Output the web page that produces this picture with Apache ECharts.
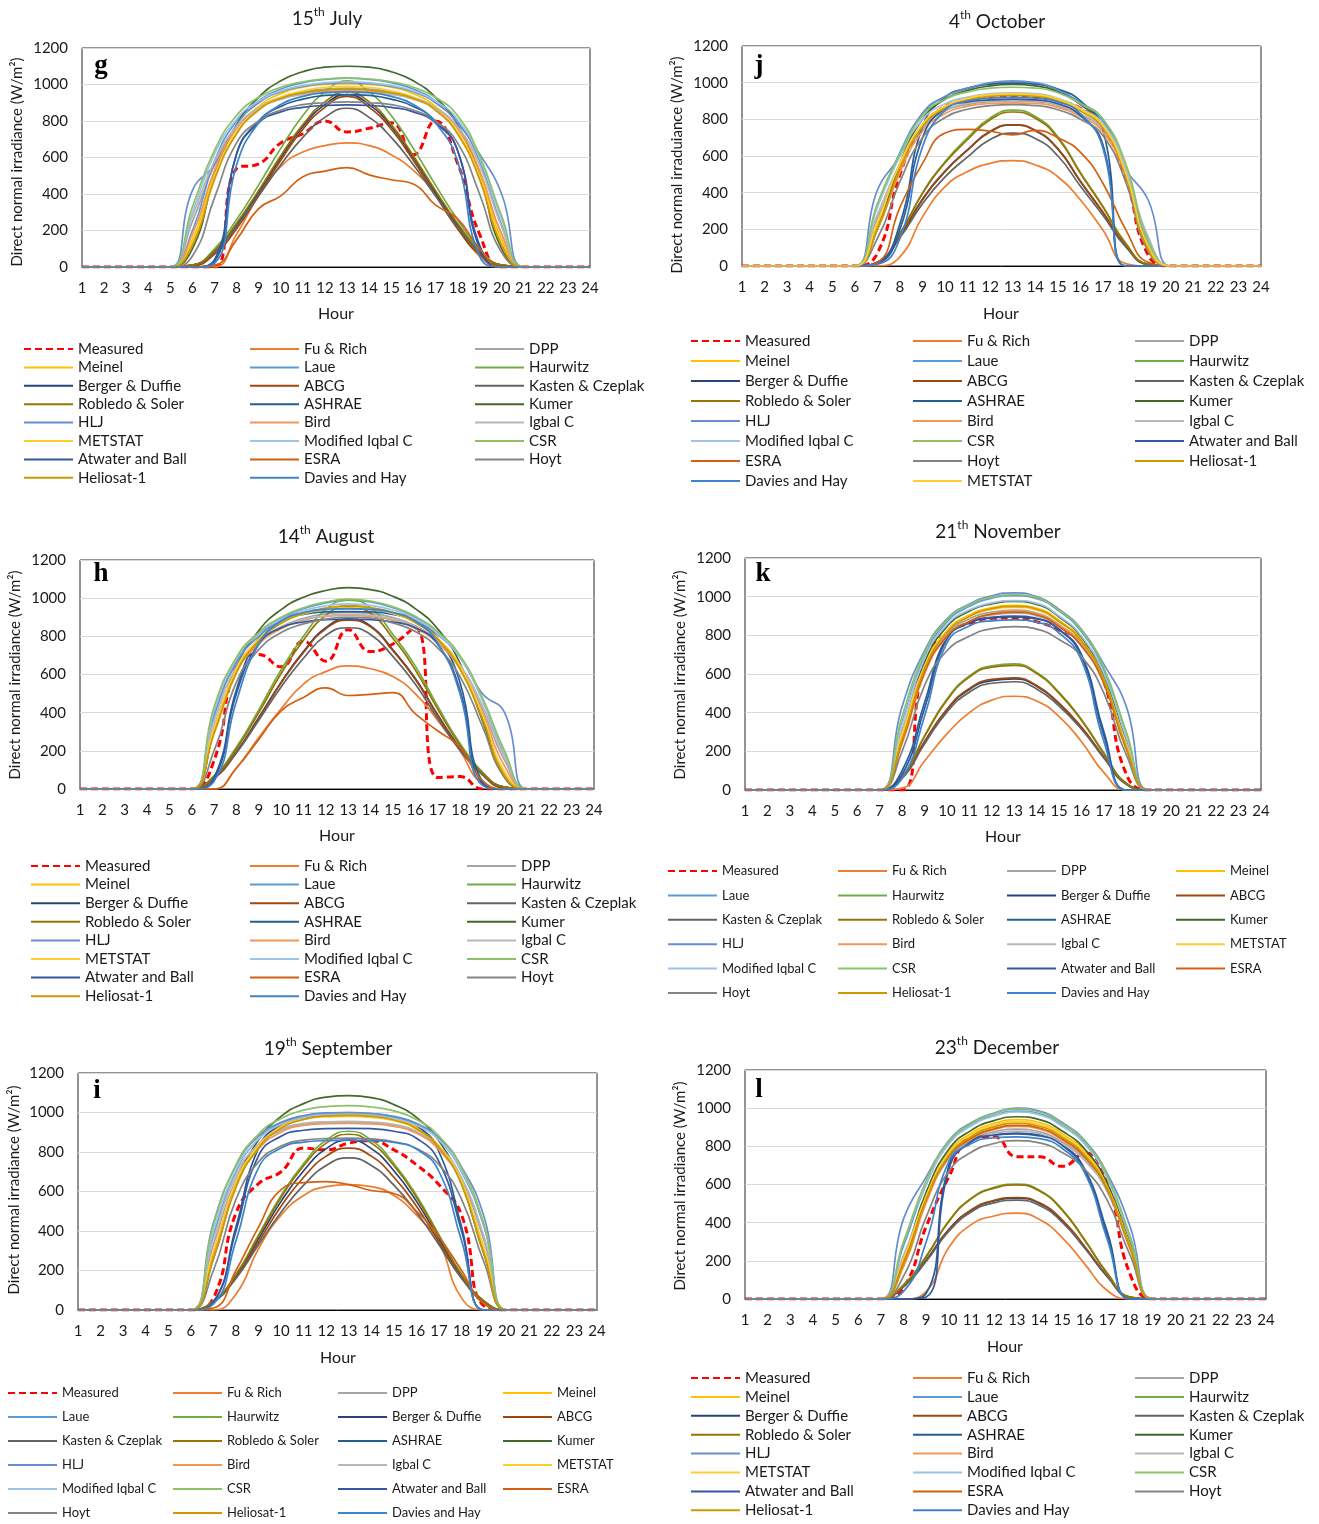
<!DOCTYPE html>
<html><head><meta charset="utf-8">
<script src="https://cdn.jsdelivr.net/npm/echarts@6/dist/echarts.min.js"></script>
<style>html,body{margin:0;padding:0;background:#fff}#c{width:1319px;height:1524px}</style>
</head><body><div id="c"></div>
<script>
// ---------- categories ----------
const hours = ['1','2','3','4','5','6','7','8','9','10','11','12','13','14','15','16','17','18','19','20','21','22','23','24'];
const yTicks = [0, 200, 400, 600, 800, 1000, 1200];

const namesStd = ['Measured','Fu & Rich','DPP','Meinel','Laue','Haurwitz','Berger & Duffie','ABCG','Kasten & Czeplak','Robledo & Soler','ASHRAE','Kumer','HLJ','Bird','Igbal C','METSTAT','Modified Iqbal C','CSR','Atwater and Ball','ESRA','Hoyt','Heliosat-1','Davies and Hay'];
const namesOct = ['Measured','Fu & Rich','DPP','Meinel','Laue','Haurwitz','Berger & Duffie','ABCG','Kasten & Czeplak','Robledo & Soler','ASHRAE','Kumer','HLJ','Bird','Igbal C','Modified Iqbal C','CSR','Atwater and Ball','ESRA','Hoyt','Heliosat-1','Davies and Hay','METSTAT'];

// ---------- 15th July (g) ----------
const jul_Measured = [0,0,0,0,0,0,0,540,565,680,730,800,740,760,790,615,800,570,180,0,0,0,0,0];
const jul_FuRich   = [0,0,0,0,0,0,0,180,390,550,630,665,680,665,615,530,400,220,60,0,0,0,0,0];
const jul_DPP      = [0,0,0,0,0,250,560,760,870,930,960,975,980,975,960,930,870,760,520,180,0,0,0,0];
const jul_Meinel   = [0,0,0,0,0,150,520,760,880,950,985,1000,1005,1000,985,950,880,760,520,150,0,0,0,0];
const jul_Laue     = [0,0,0,0,0,200,580,800,910,975,1010,1028,1035,1028,1010,975,910,800,580,230,0,0,0,0];
const jul_Haurwitz = [0,0,0,0,0,10,100,260,450,650,830,960,1020,960,830,650,450,260,100,10,0,0,0,0];
const jul_Berger   = [0,0,0,0,0,10,80,230,410,600,770,890,945,890,770,600,410,230,80,10,0,0,0,0];
const jul_ABCG     = [0,0,0,0,0,5,70,210,395,585,755,875,935,875,755,585,395,210,70,5,0,0,0,0];
const jul_Kasten   = [0,0,0,0,0,10,80,220,390,560,710,820,870,820,710,560,390,220,80,10,0,0,0,0];
const jul_Robledo  = [0,0,0,0,0,10,90,240,420,610,780,905,960,905,780,610,420,240,90,10,0,0,0,0];
const jul_ASHRAE   = [0,0,0,0,0,0,30,620,800,880,920,940,945,940,920,880,800,640,100,0,0,0,0,0];
const jul_Kumer    = [0,0,0,0,0,100,500,780,930,1020,1070,1095,1100,1095,1070,1020,930,780,500,100,0,0,0,0];
const jul_HLJ      = [0,0,0,0,0,420,560,780,900,960,990,1005,1010,1005,990,960,900,790,620,400,0,0,0,0];
const jul_Bird     = [0,0,0,0,0,180,530,760,870,920,950,962,965,962,950,920,870,760,530,180,0,0,0,0];
const jul_IgbalC   = [0,0,0,0,0,280,580,770,870,920,945,955,958,955,945,920,870,770,560,220,0,0,0,0];
const jul_METSTAT  = [0,0,0,0,0,130,500,740,860,930,965,985,990,985,965,930,860,740,500,130,0,0,0,0];
const jul_ModIqbal = [0,0,0,0,0,300,620,810,910,965,995,1010,1015,1010,995,965,910,810,600,260,0,0,0,0];
const jul_CSR      = [0,0,0,0,0,330,640,830,930,985,1015,1030,1035,1030,1015,985,930,830,610,280,0,0,0,0];
const jul_Atwater  = [0,0,0,0,0,0,40,620,790,850,875,885,888,885,875,850,790,640,120,0,0,0,0,0];
const jul_ESRA     = [0,0,0,0,0,0,10,150,320,390,495,525,545,505,478,455,340,265,100,0,0,0,0,0];
const jul_Hoyt     = [0,0,0,0,0,60,380,680,800,860,890,900,905,900,890,860,800,680,400,80,0,0,0,0];
const jul_Heliosat = [0,0,0,0,0,120,480,730,860,925,955,970,975,970,955,925,860,730,480,120,0,0,0,0];
const jul_Davies   = [0,0,0,0,0,0,20,560,790,890,935,955,960,955,935,890,790,580,60,0,0,0,0,0];

// ---------- 14th August (h) ----------
const aug_Measured = [0,0,0,0,0,0,150,640,705,640,775,670,835,720,760,845,60,65,0,0,0,0,0,0];
const aug_FuRich   = [0,0,0,0,0,0,0,110,270,420,550,615,645,630,590,500,360,200,30,0,0,0,0,0];
const aug_DPP      = [0,0,0,0,0,0,330,620,770,850,895,918,925,920,898,855,775,640,420,150,0,0,0,0];
const aug_Meinel   = [0,0,0,0,0,0,300,620,780,870,920,945,955,948,925,875,790,640,380,80,0,0,0,0];
const aug_Laue     = [0,0,0,0,0,0,380,670,815,895,945,975,990,980,950,900,820,690,470,180,0,0,0,0];
const aug_Haurwitz = [0,0,0,0,0,0,70,220,415,625,800,940,990,950,810,645,435,240,90,10,0,0,0,0];
const aug_Berger   = [0,0,0,0,0,0,60,195,375,560,720,845,890,855,730,580,390,215,80,10,0,0,0,0];
const aug_ABCG     = [0,0,0,0,0,0,55,190,370,555,715,840,885,850,725,575,385,210,75,5,0,0,0,0];
const aug_Kasten   = [0,0,0,0,0,0,60,190,360,535,685,805,845,810,695,550,370,205,75,10,0,0,0,0];
const aug_Robledo  = [0,0,0,0,0,0,65,210,400,605,780,910,960,920,790,625,420,230,85,10,0,0,0,0];
const aug_ASHRAE   = [0,0,0,0,0,0,60,520,790,880,915,928,930,928,915,880,790,560,40,0,0,0,0,0];
const aug_Kumer    = [0,0,0,0,0,0,300,640,830,940,1005,1040,1055,1045,1010,945,840,660,360,60,0,0,0,0];
const aug_HLJ      = [0,0,0,0,0,0,400,660,800,880,920,940,945,940,920,880,810,690,500,400,0,0,0,0];
const aug_Bird     = [0,0,0,0,0,0,300,610,760,840,885,905,910,905,885,842,765,630,400,120,0,0,0,0];
const aug_IgbalC   = [0,0,0,0,0,0,360,640,775,848,888,908,915,910,890,850,775,650,440,170,0,0,0,0];
const aug_METSTAT  = [0,0,0,0,0,0,320,630,785,870,918,942,950,944,920,872,790,645,390,90,0,0,0,0];
const aug_ModIqbal = [0,0,0,0,0,0,410,680,815,890,935,960,970,962,938,892,815,690,470,190,0,0,0,0];
const aug_CSR      = [0,0,0,0,0,0,430,690,820,900,950,980,995,985,955,905,825,700,480,200,0,0,0,0];
const aug_Atwater  = [0,0,0,0,0,0,50,500,760,845,875,888,890,888,875,845,760,520,30,0,0,0,0,0];
const aug_ESRA     = [0,0,0,0,0,0,0,110,260,410,480,530,490,496,505,395,305,220,45,0,0,0,0,0];
const aug_Hoyt     = [0,0,0,0,0,0,200,560,730,820,865,890,900,895,870,825,740,590,330,60,0,0,0,0];
const aug_Heliosat = [0,0,0,0,0,0,290,610,775,868,920,948,960,950,925,872,785,630,370,70,0,0,0,0];
const aug_Davies   = [0,0,0,0,0,0,40,460,760,880,925,942,945,942,925,880,765,500,20,0,0,0,0,0];

// ---------- 19th September (i) ----------
const sep_Measured = [0,0,0,0,0,0,60,490,640,700,820,811,845,857,811,735,634,480,20,0,0,0,0,0];
const sep_FuRich   = [0,0,0,0,0,0,0,80,310,480,580,625,635,625,580,480,340,60,0,0,0,0,0,0];
const sep_DPP      = [0,0,0,0,0,0,330,660,830,910,940,948,950,947,935,900,820,660,350,0,0,0,0,0];
const sep_Meinel   = [0,0,0,0,0,0,280,640,830,930,975,990,995,990,970,925,830,650,300,0,0,0,0,0];
const sep_Laue     = [0,0,0,0,0,0,380,700,865,945,982,997,1000,995,978,940,860,700,420,0,0,0,0,0];
const sep_Haurwitz = [0,0,0,0,0,0,45,180,380,580,742,860,905,860,742,580,380,180,45,0,0,0,0,0];
const sep_Berger   = [0,0,0,0,0,0,43,172,361,550,705,817,860,817,705,550,361,172,43,0,0,0,0,0];
const sep_ABCG     = [0,0,0,0,0,0,41,164,344,525,672,779,820,779,672,525,344,164,41,0,0,0,0,0];
const sep_Kasten   = [0,0,0,0,0,0,40,160,330,495,632,732,770,732,632,495,330,160,40,0,0,0,0,0];
const sep_Robledo  = [0,0,0,0,0,0,45,178,374,570,730,845,890,845,730,570,374,178,45,0,0,0,0,0];
const sep_ASHRAE   = [0,0,0,0,0,0,40,420,820,940,975,984,985,983,972,935,800,420,0,0,0,0,0,0];
const sep_Kumer    = [0,0,0,0,0,0,260,640,860,980,1045,1078,1085,1075,1040,975,855,640,280,0,0,0,0,0];
const sep_HLJ      = [0,0,0,0,0,0,440,730,880,950,985,998,1000,995,980,945,870,725,470,0,0,0,0,0];
const sep_Bird     = [0,0,0,0,0,0,280,630,815,900,935,943,945,942,930,895,810,640,310,0,0,0,0,0];
const sep_IgbalC   = [0,0,0,0,0,0,360,680,840,915,945,953,955,952,940,905,828,670,370,0,0,0,0,0];
const sep_METSTAT  = [0,0,0,0,0,0,300,650,830,925,965,978,980,975,958,915,825,650,310,0,0,0,0,0];
const sep_ModIqbal = [0,0,0,0,0,0,400,710,865,940,975,988,990,985,970,935,860,705,430,0,0,0,0,0];
const sep_CSR      = [0,0,0,0,0,0,430,735,890,970,1012,1030,1035,1028,1008,965,880,720,430,0,0,0,0,0];
const sep_Atwater  = [0,0,0,0,0,0,40,400,780,880,910,918,920,918,905,870,750,400,0,0,0,0,0,0];
const sep_ESRA     = [0,0,0,0,0,0,10,200,420,610,645,650,635,605,590,500,370,200,30,0,0,0,0,0];
const sep_Hoyt     = [0,0,0,0,0,0,200,560,750,830,860,868,870,866,852,818,735,560,240,0,0,0,0,0];
const sep_Heliosat = [0,0,0,0,0,0,260,620,820,920,965,982,985,980,962,918,822,635,280,0,0,0,0,0];
const sep_Davies   = [0,0,0,0,0,0,30,350,720,820,850,858,860,858,848,815,700,350,0,0,0,0,0,0];

// ---------- 4th October (j) ----------
const oct_Measured = [0,0,0,0,0,0,70,500,760,870,910,925,930,925,900,860,760,480,60,0,0,0,0,0];
const oct_FuRich   = [0,0,0,0,0,0,0,50,268,433,515,560,575,551,487,360,195,13,0,0,0,0,0,0];
const oct_DPP      = [0,0,0,0,0,0,260,540,750,845,882,897,900,897,875,825,745,520,150,0,0,0,0,0];
const oct_Meinel   = [0,0,0,0,0,0,220,540,770,870,910,930,935,930,905,850,760,500,100,0,0,0,0,0];
const oct_Laue     = [0,0,0,0,0,0,330,620,830,925,968,995,1005,995,958,890,790,540,120,0,0,0,0,0];
const oct_Haurwitz = [0,0,0,0,0,0,20,180,400,570,700,808,850,816,705,510,325,125,10,0,0,0,0,0];
const oct_Berger   = [0,0,0,0,0,0,18,165,365,518,635,735,770,738,637,460,290,110,8,0,0,0,0,0];
const oct_ABCG     = [0,0,0,0,0,0,15,160,360,515,632,732,770,740,640,462,293,112,8,0,0,0,0,0];
const oct_Kasten   = [0,0,0,0,0,0,18,155,340,486,595,690,725,696,600,435,275,105,8,0,0,0,0,0];
const oct_Robledo  = [0,0,0,0,0,0,20,176,395,563,690,798,840,806,697,504,320,122,10,0,0,0,0,0];
const oct_ASHRAE   = [0,0,0,0,0,0,20,230,760,920,970,992,998,992,965,900,740,0,0,0,0,0,0,0];
const oct_Kumer    = [0,0,0,0,0,0,200,560,800,910,958,982,990,982,950,880,770,500,100,0,0,0,0,0];
const oct_HLJ      = [0,0,0,0,0,0,414,600,834,925,970,1000,1010,1000,960,890,800,530,360,0,0,0,0,0];
const oct_Bird     = [0,0,0,0,0,0,200,510,735,832,872,887,890,887,865,815,730,490,100,0,0,0,0,0];
const oct_IgbalC   = [0,0,0,0,0,0,280,560,760,850,888,902,905,902,880,830,750,530,160,0,0,0,0,0];
const oct_ModIqbal = [0,0,0,0,0,0,320,600,800,885,922,940,945,940,915,860,775,540,150,0,0,0,0,0];
const oct_CSR      = [0,0,0,0,0,0,340,610,820,910,950,970,975,970,945,885,800,560,140,0,0,0,0,0];
const oct_Atwater  = [0,0,0,0,0,0,15,200,700,860,895,906,910,906,885,820,660,0,0,0,0,0,0,0];
const oct_ESRA     = [0,0,0,0,0,0,20,320,560,725,745,735,715,740,700,620,450,200,20,0,0,0,0,0];
const oct_Hoyt     = [0,0,0,0,0,0,150,460,700,810,855,875,880,875,852,800,710,460,80,0,0,0,0,0];
const oct_Heliosat = [0,0,0,0,0,0,200,530,760,862,905,925,930,925,900,845,752,495,90,0,0,0,0,0];
const oct_Davies   = [0,0,0,0,0,0,10,150,650,850,900,915,920,915,895,830,640,0,0,0,0,0,0,0];
const oct_METSTAT  = [0,0,0,0,0,0,240,560,775,872,915,935,940,935,910,855,765,510,110,0,0,0,0,0];

// ---------- 21th November (k) ----------
const nov_Measured = [0,0,0,0,0,0,0,0,670,810,862,888,890,870,828,767,560,80,0,0,0,0,0,0];
const nov_FuRich   = [0,0,0,0,0,0,0,10,150,290,400,465,485,460,380,250,90,0,0,0,0,0,0,0];
const nov_DPP      = [0,0,0,0,0,0,0,300,640,810,885,920,930,915,855,755,565,240,0,0,0,0,0,0];
const nov_Meinel   = [0,0,0,0,0,0,0,280,640,825,905,943,955,940,877,775,575,230,0,0,0,0,0,0];
const nov_Laue     = [0,0,0,0,0,0,0,350,690,870,950,992,1005,990,925,818,620,290,0,0,0,0,0,0];
const nov_Haurwitz = [0,0,0,0,0,0,0,70,280,470,590,642,652,608,505,365,192,35,0,0,0,0,0,0];
const nov_Berger   = [0,0,0,0,0,0,0,64,250,415,520,566,575,537,446,322,170,32,0,0,0,0,0,0];
const nov_ABCG     = [0,0,0,0,0,0,0,62,248,418,525,572,580,541,449,325,170,30,0,0,0,0,0,0];
const nov_Kasten   = [0,0,0,0,0,0,0,60,238,403,506,552,560,523,434,314,165,30,0,0,0,0,0,0];
const nov_Robledo  = [0,0,0,0,0,0,0,68,276,464,584,636,645,602,500,360,188,33,0,0,0,0,0,0];
const nov_ASHRAE   = [0,0,0,0,0,0,0,100,450,790,865,890,895,885,830,700,300,0,0,0,0,0,0,0];
const nov_Kumer    = [0,0,0,0,0,0,0,300,660,845,925,963,975,960,895,790,590,250,0,0,0,0,0,0];
const nov_HLJ      = [0,0,0,0,0,0,0,430,720,885,962,1005,1020,1000,935,830,650,430,0,0,0,0,0,0];
const nov_Bird     = [0,0,0,0,0,0,0,240,600,790,870,912,925,910,850,750,555,215,0,0,0,0,0,0];
const nov_IgbalC   = [0,0,0,0,0,0,0,310,640,800,872,905,915,900,842,745,560,245,0,0,0,0,0,0];
const nov_METSTAT  = [0,0,0,0,0,0,0,290,640,820,897,934,945,930,868,768,570,230,0,0,0,0,0,0];
const nov_ModIqbal = [0,0,0,0,0,0,0,340,680,855,932,968,980,965,900,795,600,280,0,0,0,0,0,0];
const nov_CSR      = [0,0,0,0,0,0,0,380,710,880,958,998,1010,995,930,825,630,300,0,0,0,0,0,0];
const nov_Atwater  = [0,0,0,0,0,0,0,80,420,780,865,893,900,888,830,690,280,0,0,0,0,0,0,0];
const nov_ESRA     = [0,0,0,0,0,0,0,250,610,795,872,910,920,905,845,745,550,210,0,0,0,0,0,0];
const nov_Hoyt     = [0,0,0,0,0,0,0,200,540,720,795,835,845,832,778,690,500,180,0,0,0,0,0,0];
const nov_Heliosat = [0,0,0,0,0,0,0,260,625,815,898,938,950,935,872,770,568,220,0,0,0,0,0,0];
const nov_Davies   = [0,0,0,0,0,0,0,60,380,760,848,875,880,868,812,670,250,0,0,0,0,0,0,0];

// ---------- 23th December (l) ----------
const dec_Measured = [0,0,0,0,0,0,0,60,380,640,845,850,745,745,695,765,600,130,0,0,0,0,0,0];
const dec_FuRich   = [0,0,0,0,0,0,0,0,40,270,391,435,450,417,322,183,43,0,0,0,0,0,0,0];
const dec_DPP      = [0,0,0,0,0,0,0,220,530,740,832,876,890,876,822,732,565,275,0,0,0,0,0,0];
const dec_Meinel   = [0,0,0,0,0,0,0,200,540,770,870,920,940,925,866,770,592,280,0,0,0,0,0,0];
const dec_Laue     = [0,0,0,0,0,0,0,280,600,815,912,962,985,970,910,815,635,320,0,0,0,0,0,0];
const dec_Haurwitz = [0,0,0,0,0,0,0,75,225,410,530,585,602,570,470,310,135,10,0,0,0,0,0,0];
const dec_Berger   = [0,0,0,0,0,0,0,68,205,365,466,514,528,500,410,270,118,9,0,0,0,0,0,0];
const dec_ABCG     = [0,0,0,0,0,0,0,65,200,362,468,517,532,504,415,275,120,9,0,0,0,0,0,0];
const dec_Kasten   = [0,0,0,0,0,0,0,64,198,355,457,504,518,490,403,266,116,9,0,0,0,0,0,0];
const dec_Robledo  = [0,0,0,0,0,0,0,72,222,406,526,581,598,566,466,307,133,10,0,0,0,0,0,0];
const dec_ASHRAE   = [0,0,0,0,0,0,0,0,30,700,830,862,870,860,810,680,350,0,0,0,0,0,0,0];
const dec_Kumer    = [0,0,0,0,0,0,0,220,560,785,885,935,955,940,880,785,605,290,0,0,0,0,0,0];
const dec_HLJ      = [0,0,0,0,0,0,0,420,640,830,925,975,1000,985,925,830,655,380,0,0,0,0,0,0];
const dec_Bird     = [0,0,0,0,0,0,0,170,505,738,838,887,905,890,833,740,568,262,0,0,0,0,0,0];
const dec_IgbalC   = [0,0,0,0,0,0,0,230,530,735,825,867,880,867,814,725,560,275,0,0,0,0,0,0];
const dec_METSTAT  = [0,0,0,0,0,0,0,210,540,765,862,911,930,915,857,762,586,280,0,0,0,0,0,0];
const dec_ModIqbal = [0,0,0,0,0,0,0,300,605,812,908,958,980,965,905,810,632,325,0,0,0,0,0,0];
const dec_CSR      = [0,0,0,0,0,0,0,300,620,825,920,972,995,980,920,825,645,330,0,0,0,0,0,0];
const dec_Atwater  = [0,0,0,0,0,0,0,0,10,680,825,858,865,855,805,670,330,0,0,0,0,0,0,0];
const dec_ESRA     = [0,0,0,0,0,0,0,190,520,745,843,892,910,896,838,745,572,268,0,0,0,0,0,0];
const dec_Hoyt     = [0,0,0,0,0,0,0,120,430,670,770,815,830,818,768,680,515,230,0,0,0,0,0,0];
const dec_Heliosat = [0,0,0,0,0,0,0,180,520,752,852,902,920,905,848,753,578,270,0,0,0,0,0,0];
const dec_Davies   = [0,0,0,0,0,0,0,40,300,720,815,845,850,840,790,660,310,0,0,0,0,0,0,0];

// series tables (built from the arrays above, in legend order)
const julData = [jul_Measured,jul_FuRich,jul_DPP,jul_Meinel,jul_Laue,jul_Haurwitz,jul_Berger,jul_ABCG,jul_Kasten,jul_Robledo,jul_ASHRAE,jul_Kumer,jul_HLJ,jul_Bird,jul_IgbalC,jul_METSTAT,jul_ModIqbal,jul_CSR,jul_Atwater,jul_ESRA,jul_Hoyt,jul_Heliosat,jul_Davies];
const augData = [aug_Measured,aug_FuRich,aug_DPP,aug_Meinel,aug_Laue,aug_Haurwitz,aug_Berger,aug_ABCG,aug_Kasten,aug_Robledo,aug_ASHRAE,aug_Kumer,aug_HLJ,aug_Bird,aug_IgbalC,aug_METSTAT,aug_ModIqbal,aug_CSR,aug_Atwater,aug_ESRA,aug_Hoyt,aug_Heliosat,aug_Davies];
const sepData = [sep_Measured,sep_FuRich,sep_DPP,sep_Meinel,sep_Laue,sep_Haurwitz,sep_Berger,sep_ABCG,sep_Kasten,sep_Robledo,sep_ASHRAE,sep_Kumer,sep_HLJ,sep_Bird,sep_IgbalC,sep_METSTAT,sep_ModIqbal,sep_CSR,sep_Atwater,sep_ESRA,sep_Hoyt,sep_Heliosat,sep_Davies];
const octData = [oct_Measured,oct_FuRich,oct_DPP,oct_Meinel,oct_Laue,oct_Haurwitz,oct_Berger,oct_ABCG,oct_Kasten,oct_Robledo,oct_ASHRAE,oct_Kumer,oct_HLJ,oct_Bird,oct_IgbalC,oct_ModIqbal,oct_CSR,oct_Atwater,oct_ESRA,oct_Hoyt,oct_Heliosat,oct_Davies,oct_METSTAT];
const novData = [nov_Measured,nov_FuRich,nov_DPP,nov_Meinel,nov_Laue,nov_Haurwitz,nov_Berger,nov_ABCG,nov_Kasten,nov_Robledo,nov_ASHRAE,nov_Kumer,nov_HLJ,nov_Bird,nov_IgbalC,nov_METSTAT,nov_ModIqbal,nov_CSR,nov_Atwater,nov_ESRA,nov_Hoyt,nov_Heliosat,nov_Davies];
const decData = [dec_Measured,dec_FuRich,dec_DPP,dec_Meinel,dec_Laue,dec_Haurwitz,dec_Berger,dec_ABCG,dec_Kasten,dec_Robledo,dec_ASHRAE,dec_Kumer,dec_HLJ,dec_Bird,dec_IgbalC,dec_METSTAT,dec_ModIqbal,dec_CSR,dec_Atwater,dec_ESRA,dec_Hoyt,dec_Heliosat,dec_Davies];

// ---------- styling ----------
const colors = {
  'Measured':'#FF0000','Fu & Rich':'#ED7D31','DPP':'#A5A5A5','Meinel':'#FFC000','Laue':'#5B9BD5',
  'Haurwitz':'#70AD47','Berger & Duffie':'#264478','ABCG':'#9E480E','Kasten & Czeplak':'#636363',
  'Robledo & Soler':'#997300','ASHRAE':'#255E91','Kumer':'#43682B','HLJ':'#698ED0','Bird':'#F1975A',
  'Igbal C':'#B7B7B7','METSTAT':'#FFCD33','Modified Iqbal C':'#9DC3E6','CSR':'#8CC168',
  'Atwater and Ball':'#3556A0','ESRA':'#D26012','Hoyt':'#848484','Heliosat-1':'#CC9A00','Davies and Hay':'#3E84C8'
};
const FONT = 'Lato';
const TXT = '#1a1a1a';
const Y_NAME = 'Direct normal irradiance (W/m\u00B2)';

const panels = [
  {letter:'g', names:namesStd, data:julData, grid:[82,48,508,219], title:['15','th',' July'], titleXY:[327,17], letterXY:[101,66], yName:Y_NAME, yNameXY:[17,162], hourXY:[336,314], cols:[23,249,474], legTop:341, pitch:18.4, fs:15},
  {letter:'j', names:namesOct, data:octData, grid:[742,46,519,220], title:['4','th',' October'], titleXY:[997,20], letterXY:[759,66], yName:'Direct normal irraduiance (W/m\u00B2)', yNameXY:[677,165], hourXY:[1001,314], cols:[690,912,1134], legTop:333, pitch:20, fs:15},
  {letter:'h', names:namesStd, data:augData, grid:[80,560,514,229], title:['14','th',' August'], titleXY:[326,535], letterXY:[101,574], yName:Y_NAME, yNameXY:[15,675], hourXY:[337,836], cols:[30,249,466], legTop:858, pitch:18.6, fs:15},
  {letter:'k', names:namesStd, data:novData, grid:[745,558,516,232], title:['21','th',' November'], titleXY:[998,530], letterXY:[763,574], yName:Y_NAME, yNameXY:[680,675], hourXY:[1003,837], cols:[667,837,1006,1175], legTop:864, pitch:24.4, fs:13},
  {letter:'i', names:namesStd, data:sepData, grid:[78,1073,519,237], title:['19','th',' September'], titleXY:[328,1047], letterXY:[97,1091], yName:Y_NAME, yNameXY:[14,1190], hourXY:[338,1358], cols:[7,172,337,502], legTop:1386, pitch:24, fs:13},
  {letter:'l', names:namesStd, data:decData, grid:[745,1070,521,229], title:['23','th',' December'], titleXY:[997,1046], letterXY:[759,1090], yName:Y_NAME, yNameXY:[680,1186], hourXY:[1005,1347], cols:[690,912,1134], legTop:1370, pitch:18.9, fs:15}
];

const option = {animation:false, backgroundColor:'#fff', grid:[], xAxis:[], yAxis:[], series:[], legend:[], graphic:[]};

panels.forEach((p, i) => {
  option.grid.push({left:p.grid[0], top:p.grid[1], width:p.grid[2], height:p.grid[3], show:true, borderColor:'#262626', borderWidth:1, backgroundColor:'#fff'});
  option.xAxis.push({type:'category', gridIndex:i, data:hours, boundaryGap:false,
    axisTick:{show:false}, axisLine:{lineStyle:{color:'#000', width:1}},
    axisLabel:{interval:0, fontSize:15, fontFamily:FONT, color:TXT, margin:14}, splitLine:{show:false}});
  option.yAxis.push({type:'value', gridIndex:i, min:yTicks[0], max:yTicks[yTicks.length-1], interval:yTicks[1]-yTicks[0],
    axisLine:{show:false}, axisTick:{show:false},
    axisLabel:{fontSize:15, fontFamily:FONT, color:TXT, margin:14, formatter:(v) => String(v)},
    splitLine:{lineStyle:{color:'#D9D9D9', width:1}}});
  p.names.forEach((name, k) => {
    const isM = name === 'Measured';
    option.series.push({type:'line', name:name, xAxisIndex:i, yAxisIndex:i, data:p.data[k],
      smooth:0.5, symbol:'none', showSymbol:false, silent:true,
      lineStyle:{color:colors[name], width:isM?3:1.7, type:isM?[7,4]:'solid'},
      itemStyle:{color:colors[name]}, emphasis:{disabled:true}});
  });
  const nc = p.cols.length;
  const ih = p.fs + 1;
  p.cols.forEach((x, c) => {
    option.legend.push({orient:'vertical', left:x, top:p.legTop, padding:0,
      itemWidth:49, itemHeight:ih, itemGap:p.pitch - ih, selectedMode:false,
      itemStyle:{opacity:0},
      textStyle:{fontSize:p.fs, fontFamily:FONT, color:TXT, lineHeight:ih},
      data:p.names.filter((n, idx) => idx % nc === c)});
  });
  option.graphic.push({type:'text', x:p.titleXY[0], y:p.titleXY[1], z:10,
    style:{text:'{n|'+p.title[0]+'}{s|'+p.title[1]+'}{n|'+p.title[2]+'}',
      rich:{n:{fontSize:19, fontFamily:FONT, fill:TXT, lineHeight:22, verticalAlign:'bottom'},
            s:{fontSize:12, fontFamily:FONT, fill:TXT, lineHeight:12, verticalAlign:'top'}},
      align:'center', verticalAlign:'middle'}});
  option.graphic.push({type:'text', x:p.letterXY[0], y:p.letterXY[1], z:10,
    style:{text:p.letter, fontSize:27, fontWeight:'bold', fontFamily:'Liberation Serif', fill:'#000', align:'center', verticalAlign:'middle'}});
  option.graphic.push({type:'text', x:p.yNameXY[0], y:p.yNameXY[1], rotation:Math.PI/2, z:10,
    style:{text:p.yName, fontSize:15, fontFamily:FONT, fill:TXT, align:'center', verticalAlign:'middle'}});
  option.graphic.push({type:'text', x:p.hourXY[0], y:p.hourXY[1], z:10,
    style:{text:'Hour', fontSize:16, fontFamily:FONT, fill:TXT, align:'center', verticalAlign:'middle'}});
});

const chart = echarts.init(document.getElementById('c'), null, {renderer:'canvas'});
chart.setOption(option);
</script>
</body></html>
